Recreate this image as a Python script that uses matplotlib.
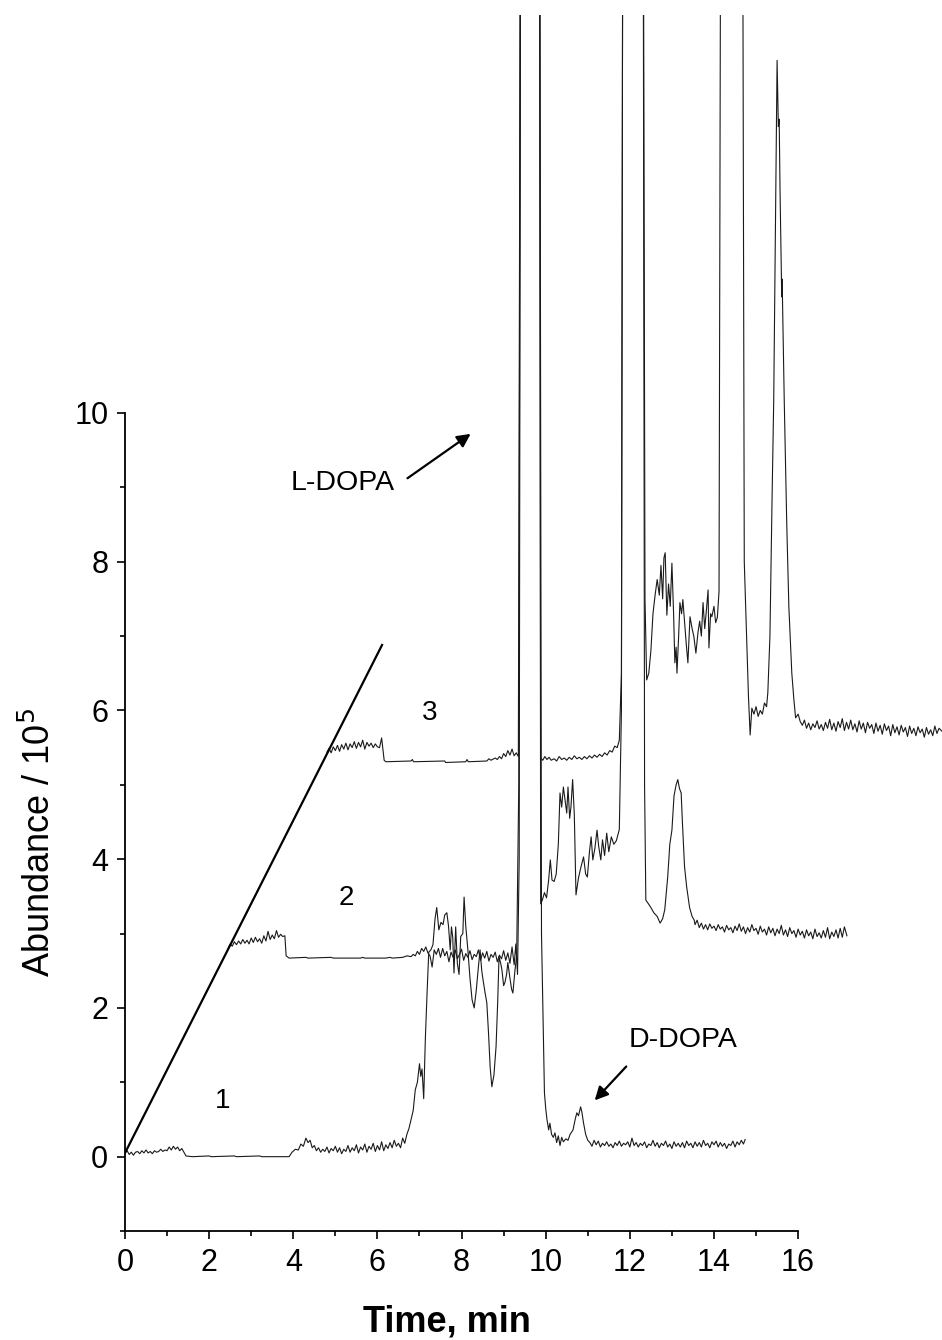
import numpy as np
import matplotlib
matplotlib.use("Agg")
import matplotlib.pyplot as plt

plt.rcParams['font.family'] = ['Liberation Sans', 'DejaVu Sans']

# trace 1 (time in min, abundance / 1e5)
t1_time = [0.00, 0.05, 0.10, 0.15, 0.20, 0.25, 0.30, 0.35, 0.40, 0.45, 0.50, 0.55, 0.60, 0.65, 0.70,
           0.75, 0.80, 0.85, 0.90, 0.95, 1.00, 1.05, 1.10, 1.15, 1.20, 1.25, 1.30, 1.35, 1.40, 1.45,
           1.60, 2.00, 2.05, 2.60, 2.65, 3.20, 3.25, 3.90, 3.97, 4.05, 4.12, 4.18, 4.24, 4.30, 4.35,
           4.40, 4.45, 4.50, 4.55, 4.60, 4.65, 4.70, 4.75, 4.80, 4.85, 4.90, 4.95, 5.00, 5.05, 5.10,
           5.15, 5.20, 5.25, 5.30, 5.35, 5.40, 5.45, 5.50, 5.55, 5.60, 5.65, 5.70, 5.75, 5.80, 5.85,
           5.90, 5.95, 6.00, 6.05, 6.10, 6.15, 6.20, 6.25, 6.30, 6.35, 6.40, 6.45, 6.50, 6.55, 6.60,
           6.65, 6.70, 6.75, 6.80, 6.85, 6.90, 6.95, 7.00, 7.03, 7.06, 7.10, 7.14, 7.18, 7.22, 7.27,
           7.32, 7.37, 7.41, 7.46, 7.51, 7.56, 7.60, 7.65, 7.69, 7.73, 7.76, 7.79, 7.82, 7.86, 7.90,
           7.94, 7.98, 8.03, 8.06, 8.10, 8.15, 8.20, 8.25, 8.30, 8.35, 8.40, 8.44, 8.48, 8.51, 8.56,
           8.60, 8.64, 8.68, 8.72, 8.77, 8.82, 8.86, 8.89, 8.93, 8.96, 9.00, 9.03, 9.07, 9.10, 9.15,
           9.19, 9.22, 9.27, 9.31, 9.36, 9.41, 9.85, 9.90, 9.97, 10.00, 10.03, 10.07, 10.10, 10.14, 10.18,
           10.22, 10.26, 10.30, 10.34, 10.38, 10.42, 10.48, 10.53, 10.58, 10.65, 10.70, 10.74, 10.78, 10.83, 10.86,
           10.90, 10.95, 11.00, 11.05, 11.10, 11.15, 11.20, 11.25, 11.30, 11.35, 11.40, 11.45, 11.50, 11.55, 11.60,
           11.65, 11.70, 11.75, 11.80, 11.85, 11.90, 11.95, 12.00, 12.05, 12.10, 12.15, 12.20, 12.25, 12.30, 12.35,
           12.40, 12.45, 12.50, 12.55, 12.60, 12.65, 12.70, 12.75, 12.80, 12.85, 12.90, 12.95, 13.00, 13.05, 13.10,
           13.15, 13.20, 13.25, 13.30, 13.35, 13.40, 13.45, 13.50, 13.55, 13.60, 13.65, 13.70, 13.75, 13.80, 13.85,
           13.90, 13.95, 14.00, 14.05, 14.10, 14.15, 14.20, 14.25, 14.30, 14.35, 14.40, 14.45, 14.50, 14.55, 14.60,
           14.65, 14.70, 14.74]
t1_abund = [0.05, 0.08, 0.03, 0.06, 0.02, 0.06, 0.07, 0.04, 0.08, 0.05, 0.09, 0.05, 0.07, 0.04, 0.08,
            0.06, 0.07, 0.10, 0.07, 0.09, 0.08, 0.13, 0.09, 0.14, 0.10, 0.13, 0.08, 0.11, 0.06, 0.01,
            0.00, 0.01, 0.00, 0.01, 0.00, 0.01, 0.00, 0.00, 0.06, 0.10, 0.09, 0.17, 0.14, 0.25, 0.19,
            0.22, 0.12, 0.15, 0.08, 0.12, 0.06, 0.10, 0.07, 0.13, 0.05, 0.11, 0.08, 0.14, 0.06, 0.12,
            0.04, 0.10, 0.07, 0.15, 0.06, 0.12, 0.08, 0.16, 0.05, 0.13, 0.09, 0.17, 0.06, 0.14, 0.10,
            0.18, 0.07, 0.15, 0.09, 0.20, 0.08, 0.16, 0.11, 0.19, 0.12, 0.22, 0.14, 0.18, 0.12, 0.25,
            0.18, 0.30, 0.38, 0.50, 0.62, 0.90, 1.00, 1.25, 1.08, 1.18, 0.78, 1.60, 2.20, 2.75, 2.78,
            2.85, 3.20, 3.35, 3.05, 3.15, 3.12, 3.25, 3.28, 3.10, 2.78, 3.09, 2.95, 2.47, 3.09, 2.60,
            2.45, 2.96, 3.00, 3.49, 3.10, 2.78, 2.40, 2.11, 2.00, 2.24, 2.55, 2.78, 2.50, 2.38, 2.20,
            2.07, 1.67, 1.20, 0.94, 1.10, 1.48, 2.10, 2.69, 2.60, 2.51, 2.30, 2.34, 2.45, 2.61, 2.40,
            2.25, 2.20, 2.51, 2.70, 5.00, 20.0, 20.0, 3.00, 0.86, 0.65, 0.50, 0.36, 0.45, 0.30, 0.26,
            0.32, 0.19, 0.28, 0.15, 0.26, 0.20, 0.24, 0.22, 0.30, 0.36, 0.50, 0.59, 0.55, 0.67, 0.60,
            0.45, 0.30, 0.22, 0.19, 0.14, 0.22, 0.16, 0.21, 0.13, 0.18, 0.15, 0.20, 0.14, 0.17, 0.12,
            0.19, 0.15, 0.21, 0.14, 0.18, 0.16, 0.20, 0.13, 0.25, 0.15, 0.19, 0.13, 0.18, 0.15, 0.20,
            0.12, 0.17, 0.15, 0.22, 0.14, 0.19, 0.12, 0.18, 0.15, 0.21, 0.13, 0.17, 0.11, 0.20, 0.14,
            0.18, 0.13, 0.19, 0.12, 0.21, 0.15, 0.18, 0.12, 0.20, 0.14, 0.19, 0.13, 0.22, 0.15, 0.18,
            0.12, 0.20, 0.16, 0.21, 0.13, 0.19, 0.14, 0.18, 0.11, 0.17, 0.15, 0.21, 0.13, 0.20, 0.16,
            0.22, 0.17, 0.23]

# trace 2
t2_time = [2.45, 2.50, 2.55, 2.60, 2.65, 2.70, 2.75, 2.80, 2.85, 2.90, 2.95, 3.00, 3.05, 3.10, 3.15,
           3.20, 3.25, 3.30, 3.35, 3.40, 3.45, 3.50, 3.55, 3.60, 3.65, 3.70, 3.75, 3.80, 3.83, 3.90,
           4.30, 4.35, 4.90, 4.95, 5.60, 5.65, 5.70, 6.20, 6.30, 6.35, 6.60, 6.70, 6.80, 6.85, 6.90,
           6.95, 7.00, 7.05, 7.10, 7.15, 7.20, 7.25, 7.30, 7.35, 7.40, 7.45, 7.50, 7.55, 7.60, 7.65,
           7.70, 7.75, 7.80, 7.85, 7.90, 7.95, 8.00, 8.05, 8.10, 8.15, 8.20, 8.25, 8.30, 8.35, 8.40,
           8.45, 8.50, 8.55, 8.60, 8.65, 8.70, 8.75, 8.80, 8.85, 8.90, 8.95, 9.00, 9.05, 9.10, 9.15,
           9.20, 9.25, 9.29, 9.33, 9.37, 9.41, 9.85, 9.88, 9.92, 9.97, 10.02, 10.07, 10.11, 10.15, 10.20,
           10.25, 10.30, 10.34, 10.38, 10.42, 10.46, 10.50, 10.53, 10.57, 10.60, 10.64, 10.68, 10.72, 10.78, 10.84,
           10.90, 10.95, 10.99, 11.04, 11.08, 11.12, 11.17, 11.22, 11.26, 11.31, 11.35, 11.40, 11.45, 11.50, 11.56,
           11.62, 11.68, 11.75, 11.80, 11.84, 12.31, 12.35, 12.38, 12.43, 12.50, 12.57, 12.65, 12.72, 12.78, 12.83,
           12.90, 12.95, 13.00, 13.05, 13.10, 13.14, 13.18, 13.22, 13.25, 13.30, 13.35, 13.42, 13.48, 13.53, 13.55,
           13.60, 13.65, 13.70, 13.75, 13.80, 13.85, 13.90, 13.95, 14.00, 14.05, 14.10, 14.15, 14.20, 14.25, 14.30,
           14.35, 14.40, 14.45, 14.50, 14.55, 14.60, 14.65, 14.70, 14.75, 14.80, 14.85, 14.90, 14.95, 15.00, 15.05,
           15.10, 15.15, 15.20, 15.25, 15.30, 15.35, 15.40, 15.45, 15.50, 15.55, 15.60, 15.65, 15.70, 15.75, 15.80,
           15.85, 15.90, 15.95, 16.00, 16.05, 16.10, 16.15, 16.20, 16.25, 16.30, 16.35, 16.40, 16.45, 16.50, 16.55,
           16.60, 16.65, 16.70, 16.75, 16.80, 16.85, 16.90, 16.95, 17.00, 17.05, 17.10, 17.16]
t2_abund = [2.80, 2.86, 2.83, 2.89, 2.85, 2.90, 2.86, 2.92, 2.87, 2.91, 2.86, 2.94, 2.88, 2.95, 2.89,
            2.93, 2.87, 2.97, 2.90, 3.03, 2.92, 2.98, 2.93, 3.04, 2.95, 2.99, 2.96, 2.97, 2.70, 2.67,
            2.68, 2.67, 2.68, 2.67, 2.67, 2.68, 2.67, 2.67, 2.68, 2.67, 2.68, 2.70, 2.69, 2.72, 2.70,
            2.76, 2.72, 2.80, 2.76, 2.82, 2.74, 2.70, 2.55, 2.78, 2.72, 2.80, 2.68, 2.80, 2.70, 2.76,
            2.62, 2.75, 2.68, 2.78, 2.66, 2.72, 2.79, 2.64, 2.73, 2.68, 2.77, 2.65, 2.72, 2.69, 2.78,
            2.64, 2.74, 2.67, 2.76, 2.63, 2.72, 2.68, 2.75, 2.62, 2.71, 2.66, 2.77, 2.64, 2.74, 2.60,
            2.82, 2.58, 2.86, 2.45, 4.00, 20.0, 20.0, 3.40, 3.45, 3.55, 3.48, 3.72, 3.99, 3.72, 3.70,
            3.80, 4.20, 4.89, 4.70, 4.97, 4.80, 4.62, 4.97, 4.55, 4.70, 5.07, 4.60, 3.52, 3.75, 3.90,
            4.03, 3.80, 3.76, 4.10, 4.30, 3.99, 4.15, 4.39, 4.17, 3.99, 4.26, 4.05, 4.35, 4.10, 4.30,
            4.20, 4.25, 4.40, 6.00, 20.0, 20.0, 5.00, 3.45, 3.41, 3.35, 3.28, 3.23, 3.14, 3.20, 3.32,
            3.76, 4.20, 4.39, 4.85, 5.00, 5.07, 4.95, 4.89, 4.49, 3.90, 3.63, 3.35, 3.23, 3.18, 3.12,
            3.18, 3.08, 3.14, 3.06, 3.12, 3.05, 3.13, 3.07, 3.10, 3.04, 3.12, 3.06, 3.09, 3.02, 3.11,
            3.05, 3.08, 3.01, 3.10, 3.04, 3.13, 3.03, 3.09, 3.00, 3.08, 3.02, 3.12, 3.04, 3.07, 2.99,
            3.10, 3.02, 3.06, 2.98, 3.09, 3.01, 3.07, 2.97, 3.06, 3.00, 3.11, 2.98, 3.05, 2.96, 3.08,
            3.00, 3.04, 2.95, 3.06, 2.98, 3.03, 2.94, 3.05, 2.97, 3.02, 2.93, 3.06, 2.96, 3.01, 2.94,
            3.04, 2.95, 3.08, 2.93, 3.02, 2.96, 3.05, 2.94, 3.07, 2.95, 3.09, 2.97]

# trace 3
t3_time = [4.80, 4.85, 4.90, 4.95, 5.00, 5.05, 5.10, 5.15, 5.20, 5.25, 5.30, 5.35, 5.40, 5.45, 5.50,
           5.55, 5.60, 5.65, 5.70, 5.75, 5.80, 5.85, 5.90, 5.95, 6.00, 6.05, 6.10, 6.13, 6.16, 6.20,
           6.80, 6.83, 6.86, 7.60, 7.62, 8.10, 8.13, 8.16, 8.60, 8.65, 8.70, 8.80, 8.85, 8.90, 8.95,
           9.00, 9.05, 9.10, 9.15, 9.20, 9.25, 9.30, 9.35, 9.41, 9.85, 9.88, 9.93, 9.98, 10.03, 10.08,
           10.13, 10.20, 10.26, 10.32, 10.38, 10.44, 10.50, 10.56, 10.62, 10.68, 10.74, 10.80, 10.86, 10.92, 10.98,
           11.04, 11.10, 11.16, 11.22, 11.28, 11.34, 11.40, 11.46, 11.52, 11.58, 11.64, 11.70, 11.75, 11.80, 11.84,
           12.31, 12.36, 12.40, 12.45, 12.50, 12.55, 12.60, 12.65, 12.70, 12.74, 12.78, 12.81, 12.84, 12.88, 12.92,
           12.96, 13.00, 13.04, 13.07, 13.10, 13.12, 13.16, 13.19, 13.23, 13.26, 13.30, 13.34, 13.38, 13.43, 13.48,
           13.52, 13.57, 13.62, 13.66, 13.70, 13.74, 13.78, 13.82, 13.86, 13.88, 13.92, 13.95, 14.00, 14.04, 14.08,
           14.12, 14.17, 14.67, 14.72, 14.78, 14.82, 14.86, 14.90, 14.95, 15.00, 15.05, 15.10, 15.15, 15.20, 15.25,
           15.28, 15.33, 15.38, 15.42, 15.46, 15.50, 15.53, 15.55, 15.57, 15.60, 15.61, 15.62, 15.67, 15.73, 15.78,
           15.85, 15.90, 15.94, 16.00, 16.05, 16.10, 16.15, 16.20, 16.25, 16.30, 16.35, 16.40, 16.45, 16.50, 16.55,
           16.60, 16.65, 16.70, 16.75, 16.80, 16.85, 16.90, 16.95, 17.00, 17.05, 17.10, 17.15, 17.20, 17.25, 17.30,
           17.35, 17.40, 17.45, 17.50, 17.55, 17.60, 17.65, 17.70, 17.75, 17.80, 17.85, 17.90, 17.95, 18.00, 18.05,
           18.10, 18.15, 18.20, 18.25, 18.30, 18.35, 18.40, 18.45, 18.50, 18.55, 18.60, 18.65, 18.70, 18.75, 18.80,
           18.85, 18.90, 18.95, 19.00, 19.05, 19.10, 19.15, 19.20, 19.25, 19.30, 19.35, 19.42]
t3_abund = [5.44, 5.49, 5.43, 5.51, 5.46, 5.53, 5.45, 5.54, 5.48, 5.56, 5.47, 5.55, 5.50, 5.58, 5.49,
            5.57, 5.51, 5.60, 5.48, 5.57, 5.52, 5.56, 5.50, 5.55, 5.51, 5.50, 5.63, 5.48, 5.33, 5.31,
            5.32, 5.34, 5.31, 5.32, 5.30, 5.31, 5.34, 5.31, 5.32, 5.35, 5.33, 5.36, 5.34, 5.38, 5.35,
            5.42, 5.38, 5.46, 5.40, 5.48, 5.39, 5.43, 5.38, 20.0, 20.0, 5.36, 5.33, 5.38, 5.34, 5.37,
            5.33, 5.35, 5.32, 5.38, 5.34, 5.36, 5.33, 5.37, 5.34, 5.39, 5.35, 5.37, 5.34, 5.38, 5.35,
            5.39, 5.36, 5.40, 5.37, 5.41, 5.38, 5.43, 5.40, 5.46, 5.44, 5.52, 5.50, 5.60, 6.50, 20.0,
            20.0, 7.50, 6.41, 6.50, 6.80, 7.30, 7.55, 7.76, 7.55, 7.95, 7.50, 8.05, 8.12, 7.28, 7.70,
            7.40, 7.98, 7.30, 6.64, 6.85, 6.50, 7.00, 7.45, 7.30, 7.49, 7.20, 6.90, 6.64, 7.26, 7.10,
            7.00, 6.77, 7.05, 7.20, 7.00, 7.45, 7.10, 7.35, 7.62, 6.84, 7.30, 7.26, 7.40, 7.18, 7.25,
            7.60, 20.0, 20.0, 8.00, 6.90, 6.18, 5.67, 6.03, 5.95, 6.05, 5.92, 6.00, 5.95, 6.10, 6.05,
            6.24, 7.00, 8.83, 10.17, 12.50, 14.74, 13.85, 13.95, 13.00, 11.85, 11.56, 11.80, 10.17, 8.50, 7.39,
            6.50, 6.14, 5.90, 5.95, 5.85, 5.80, 5.87, 5.76, 5.83, 5.74, 5.82, 5.77, 5.86, 5.75, 5.81,
            5.73, 5.84, 5.76, 5.88, 5.74, 5.83, 5.72, 5.85, 5.77, 5.89, 5.73, 5.84, 5.75, 5.87, 5.74,
            5.82, 5.71, 5.86, 5.75, 5.83, 5.70, 5.84, 5.76, 5.81, 5.69, 5.83, 5.72, 5.80, 5.68, 5.82,
            5.73, 5.79, 5.66, 5.81, 5.70, 5.78, 5.67, 5.80, 5.71, 5.77, 5.65, 5.79, 5.69, 5.76, 5.66,
            5.78, 5.70, 5.75, 5.64, 5.77, 5.68, 5.74, 5.66, 5.79, 5.69, 5.76, 5.72]

# diagonal line linking the trace starts
diag_time = [0.0, 6.11]
diag_abund = [0.05, 6.88]

fig = plt.figure(figsize=(9.42, 13.40), dpi=100)
ax = fig.add_axes([0.1327, 0.0813, 0.8673, 0.9075])

line_kw = dict(color='#1a1a1a', lw=0.8)
ax.plot(t1_time, t1_abund, **line_kw)
ax.plot(t2_time, t2_abund, **line_kw)
ax.plot(t3_time, t3_abund, **line_kw)
ax.plot(diag_time, diag_abund, color='black', lw=1.6)

ax.set_xlim(0, 19.42)
ax.set_ylim(-1, 15.35)

for s in ['top', 'right']:
    ax.spines[s].set_visible(False)
ax.spines['left'].set_bounds(-1, 10)
ax.spines['bottom'].set_bounds(0, 16)
ax.spines['left'].set_linewidth(1.3)
ax.spines['bottom'].set_linewidth(1.3)

ax.set_xticks(np.arange(0, 17, 2))
ax.set_yticks(np.arange(0, 11, 2))
ax.set_xticks(np.arange(1, 16, 2), minor=True)
ax.set_yticks(np.arange(-1, 10, 2), minor=True)
ax.tick_params(which='major', direction='out', length=6, width=1.2, labelsize=22, pad=6)
ax.tick_params(which='minor', direction='out', length=3.5, width=1.2)

ax.set_xlabel('Time, min', fontsize=26, fontweight='bold')
ax.xaxis.set_label_coords(0.394, -0.060)
ax.set_ylabel('Abundance / 10$^5$', fontsize=26)
ax.yaxis.set_label_coords(-0.082, 0.32)

ax.text(2.31, 0.75, '1', fontsize=20, ha='center', va='center')
ax.text(5.25, 3.48, '2', fontsize=20, ha='center', va='center')
ax.text(7.25, 5.96, '3', fontsize=20, ha='center', va='center')

ax.annotate('', xy=(8.27, 9.74), xytext=(6.66, 9.10),
            arrowprops=dict(arrowstyle='-|>', color='black', lw=1.6, mutation_scale=20))
ax.text(5.18, 9.06, 'L-DOPA', fontsize=20.5, ha='center', va='center')
ax.annotate('', xy=(11.12, 0.73), xytext=(11.96, 1.24),
            arrowprops=dict(arrowstyle='-|>', color='black', lw=1.6, mutation_scale=20))
ax.text(13.26, 1.57, 'D-DOPA', fontsize=20.5, ha='center', va='center')

fig.savefig('out.png', dpi=100)
